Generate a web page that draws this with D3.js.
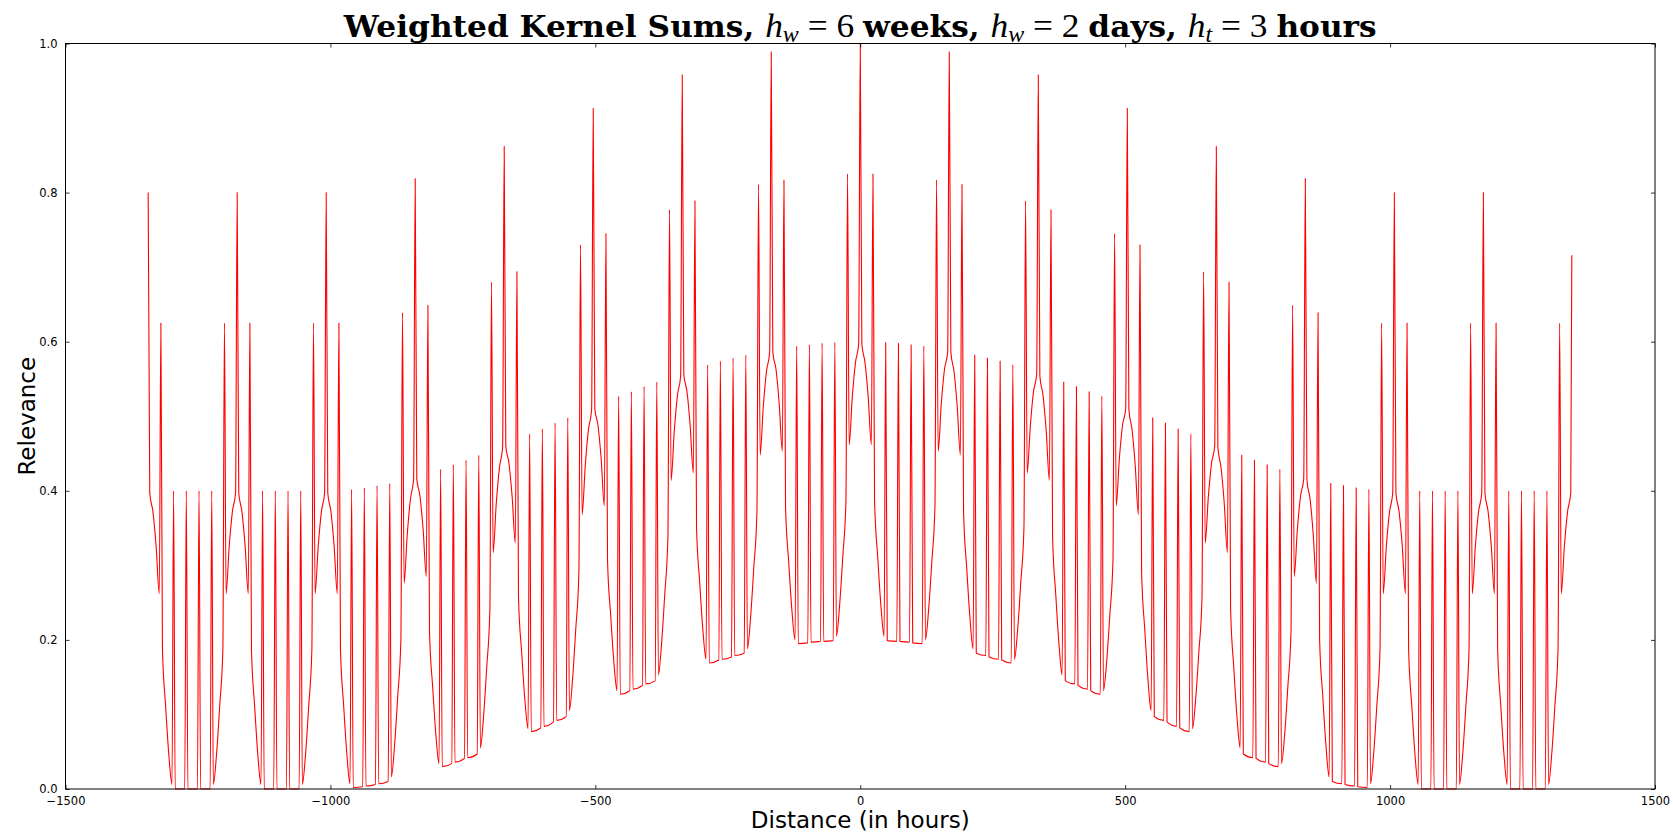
<!DOCTYPE html>
<html>
<head>
<meta charset="utf-8">
<script src="https://cdn.jsdelivr.net/npm/d3@7"></script>
<style>
  html, body { margin: 0; padding: 0; background: #ffffff; }
  svg { display: block; }
</style>
</head>
<body>
<svg id="chart" width="1673" height="836"></svg>
<script>
// ---- Data (hours from reference, relevance) ----
// Sample offsets (hours) inside each week that the reading was taken at
const hourOffsets = [0, 3, 9, 15, 21, 24, 27, 33, 39, 45, 48, 51, 69, 72, 75, 93, 96, 99, 117, 120, 123, 129, 135, 141, 144, 147, 153, 159, 165];
// Start hour of each week block
const weekStarts = [-1344, -1176, -1008, -840, -672, -504, -336, -168, 0, 168, 336, 504, 672, 840, 1008, 1176];

const relWeekM8 = [0.800, 0.397, 0.372, 0.326, 0.262, 0.625, 0.187, 0.111, 0.046, 0.006, 0.400, 0.000, 0.000, 0.400, 0.000, 0.000, 0.400, 0.000, 0.000, 0.400, 0.006, 0.046, 0.111, 0.187, 0.625, 0.262, 0.326, 0.372, 0.397];
const relWeekM7 = [0.800, 0.397, 0.372, 0.326, 0.262, 0.625, 0.187, 0.111, 0.046, 0.006, 0.400, 0.000, 0.000, 0.400, 0.000, 0.000, 0.400, 0.000, 0.000, 0.400, 0.006, 0.046, 0.111, 0.187, 0.625, 0.262, 0.326, 0.372, 0.397];
const relWeekM6 = [0.800, 0.397, 0.372, 0.326, 0.262, 0.625, 0.187, 0.112, 0.047, 0.007, 0.402, 0.002, 0.003, 0.404, 0.004, 0.006, 0.407, 0.007, 0.010, 0.410, 0.016, 0.058, 0.124, 0.200, 0.639, 0.276, 0.341, 0.389, 0.415];
const relWeekM5 = [0.819, 0.416, 0.393, 0.348, 0.285, 0.649, 0.211, 0.137, 0.073, 0.034, 0.429, 0.030, 0.034, 0.435, 0.036, 0.041, 0.441, 0.042, 0.047, 0.448, 0.055, 0.097, 0.163, 0.241, 0.680, 0.317, 0.383, 0.431, 0.458];
const relWeekM4 = [0.862, 0.460, 0.437, 0.392, 0.330, 0.694, 0.257, 0.183, 0.120, 0.081, 0.476, 0.077, 0.082, 0.483, 0.084, 0.090, 0.491, 0.092, 0.097, 0.498, 0.105, 0.147, 0.214, 0.291, 0.730, 0.368, 0.434, 0.482, 0.509];
const relWeekM3 = [0.913, 0.510, 0.488, 0.443, 0.380, 0.745, 0.307, 0.233, 0.170, 0.132, 0.527, 0.127, 0.132, 0.533, 0.134, 0.139, 0.540, 0.141, 0.145, 0.546, 0.153, 0.195, 0.261, 0.338, 0.777, 0.414, 0.480, 0.528, 0.554];
const relWeekM2 = [0.958, 0.556, 0.533, 0.487, 0.424, 0.789, 0.351, 0.277, 0.213, 0.174, 0.569, 0.169, 0.173, 0.574, 0.174, 0.177, 0.578, 0.179, 0.182, 0.582, 0.188, 0.230, 0.296, 0.372, 0.811, 0.448, 0.513, 0.560, 0.586];
const relWeekM1 = [0.989, 0.586, 0.563, 0.517, 0.453, 0.817, 0.379, 0.304, 0.240, 0.200, 0.594, 0.195, 0.196, 0.596, 0.197, 0.198, 0.598, 0.198, 0.199, 0.599, 0.205, 0.246, 0.311, 0.387, 0.825, 0.462, 0.526, 0.572, 0.597];
const relWeek0  = [1.000, 0.597, 0.572, 0.526, 0.462, 0.825, 0.387, 0.311, 0.246, 0.205, 0.599, 0.199, 0.198, 0.598, 0.198, 0.197, 0.596, 0.196, 0.195, 0.594, 0.200, 0.240, 0.304, 0.379, 0.817, 0.453, 0.517, 0.563, 0.586];
const relWeek1  = [0.989, 0.586, 0.560, 0.513, 0.448, 0.811, 0.372, 0.296, 0.230, 0.188, 0.582, 0.182, 0.179, 0.578, 0.177, 0.174, 0.574, 0.173, 0.169, 0.569, 0.174, 0.213, 0.277, 0.351, 0.789, 0.424, 0.487, 0.533, 0.556];
const relWeek2  = [0.958, 0.554, 0.528, 0.480, 0.414, 0.777, 0.338, 0.261, 0.195, 0.153, 0.546, 0.145, 0.141, 0.540, 0.139, 0.134, 0.533, 0.132, 0.127, 0.527, 0.132, 0.170, 0.233, 0.307, 0.745, 0.380, 0.443, 0.488, 0.510];
const relWeek3  = [0.913, 0.509, 0.482, 0.434, 0.368, 0.730, 0.291, 0.214, 0.147, 0.105, 0.498, 0.097, 0.092, 0.491, 0.090, 0.084, 0.483, 0.082, 0.077, 0.476, 0.081, 0.120, 0.183, 0.257, 0.694, 0.330, 0.392, 0.437, 0.460];
const relWeek4  = [0.862, 0.458, 0.431, 0.383, 0.317, 0.680, 0.241, 0.163, 0.097, 0.055, 0.448, 0.047, 0.042, 0.441, 0.041, 0.036, 0.435, 0.034, 0.030, 0.429, 0.034, 0.073, 0.137, 0.211, 0.649, 0.285, 0.348, 0.393, 0.416];
const relWeek5  = [0.819, 0.415, 0.389, 0.341, 0.276, 0.639, 0.200, 0.124, 0.058, 0.016, 0.410, 0.010, 0.007, 0.407, 0.006, 0.004, 0.404, 0.003, 0.002, 0.402, 0.007, 0.047, 0.112, 0.187, 0.625, 0.262, 0.326, 0.372, 0.397];
const relWeek6  = [0.800, 0.397, 0.372, 0.326, 0.262, 0.625, 0.187, 0.111, 0.046, 0.006, 0.400, 0.000, 0.000, 0.400, 0.000, 0.000, 0.400, 0.000, 0.000, 0.400, 0.006, 0.046, 0.111, 0.187, 0.625, 0.262, 0.326, 0.372, 0.397];
const relWeek7  = [0.800, 0.397, 0.372, 0.326, 0.262, 0.625, 0.187, 0.111, 0.046, 0.006, 0.400, 0.000, 0.000, 0.400, 0.000, 0.000, 0.400, 0.000, 0.000, 0.400, 0.006, 0.046, 0.111, 0.187, 0.625, 0.262, 0.326, 0.372, 0.397];
// final sample at the right end
const tailHours  = [1343];
const tailValues = [0.716];

const xTicks = [-1500, -1000, -500, 0, 500, 1000, 1500];
const yTicks = [0.0, 0.2, 0.4, 0.6, 0.8, 1.0];
const xDomain = [-1500, 1500];
const yDomain = [0, 1];

const weekSeries = [relWeekM8, relWeekM7, relWeekM6, relWeekM5, relWeekM4, relWeekM3, relWeekM2, relWeekM1,
                    relWeek0, relWeek1, relWeek2, relWeek3, relWeek4, relWeek5, relWeek6, relWeek7];

// ---- Build points ----
const points = [];
weekSeries.forEach((vals, i) => {
  vals.forEach((v, j) => points.push([weekStarts[i] + hourOffsets[j], v]));
});
tailHours.forEach((h, i) => points.push([h, tailValues[i]]));

// ---- Layout ----
const svg = d3.select("#chart");
const L = 65.5, R = 1655, T = 43.5, B = 789;

const x = d3.scaleLinear().domain(xDomain).range([L, R]);
const y = d3.scaleLinear().domain(yDomain).range([B, T]);

svg.append("defs").append("clipPath").attr("id", "clip")
  .append("rect").attr("x", L).attr("y", T - 1).attr("width", R - L).attr("height", B - T + 2);

// line
const line = d3.line().x(d => x(d[0])).y(d => y(d[1])).curve(d3.curveMonotoneX);
svg.append("path")
  .datum(points)
  .attr("clip-path", "url(#clip)")
  .attr("fill", "none")
  .attr("stroke", "#ff0000")
  .attr("stroke-width", 1.1)
  .attr("stroke-linejoin", "round")
  .attr("d", line);

// axes (ticks inward, on all four sides)
const tickFont = "DejaVu Sans, Bitstream Vera Sans, sans-serif";
const axBottom = d3.axisBottom(x).tickValues(xTicks).tickSize(-4).tickPadding(8)
  .tickFormat(d => d3.format("d")(d).replace("-", "\u2212"));
const axTop = d3.axisTop(x).tickValues(xTicks).tickSize(-4).tickFormat("");
const axLeft = d3.axisLeft(y).tickValues(yTicks).tickSize(-4).tickPadding(8).tickFormat(d3.format(".1f"));
const axRight = d3.axisRight(y).tickValues(yTicks).tickSize(-4).tickFormat("");

function styleAxis(g) {
  g.select(".domain").remove();
  g.selectAll(".tick line").attr("stroke", "#000").attr("stroke-width", 0.8);
  g.selectAll(".tick text").attr("fill", "#000").style("font-family", tickFont).style("font-size", "11.5px");
}
svg.append("g").attr("transform", `translate(0,${B})`).call(axBottom).call(styleAxis);
svg.append("g").attr("transform", `translate(0,${T})`).call(axTop).call(styleAxis);
svg.append("g").attr("transform", `translate(${L},0)`).call(axLeft).call(styleAxis);
svg.append("g").attr("transform", `translate(${R},0)`).call(axRight).call(styleAxis);

// frame
svg.append("rect").attr("x", L).attr("y", T).attr("width", R - L).attr("height", B - T)
  .attr("fill", "none").attr("stroke", "#000").attr("stroke-width", 1);

// axis labels
svg.append("text")
  .attr("x", (L + R) / 2).attr("y", 828)
  .attr("text-anchor", "middle")
  .style("font-family", tickFont).style("font-size", "23px")
  .text("Distance (in hours)");
svg.append("text")
  .attr("transform", `translate(35,${(T + B) / 2}) rotate(-90)`)
  .attr("text-anchor", "middle")
  .style("font-family", tickFont).style("font-size", "23px")
  .text("Relevance");

// title with math parts
const titleParts = [
  {t: "Weighted Kernel Sums, ", k: "b"},
  {t: "h", k: "i"}, {t: "w", k: "s"}, {t: " = 6 ", k: "n"}, {t: "weeks, ", k: "b"},
  {t: "h", k: "i"}, {t: "w", k: "s"}, {t: " = 2 ", k: "n"}, {t: "days, ", k: "b"},
  {t: "h", k: "i"}, {t: "t", k: "s"}, {t: " = 3 ", k: "n"}, {t: "hours", k: "b"}
];
const titleCx = (L + R) / 2;
const titleG = svg.append("g");
const title = titleG.append("text")
  .attr("x", titleCx).attr("y", 37)
  .attr("text-anchor", "middle")
  .style("font-size", "30px")
  .attr("xml:space", "preserve");
let prevSub = false;
titleParts.forEach(p => {
  const ts = title.append("tspan").text(p.t);
  if (p.k === "b") ts.style("font-family", "DejaVu Serif, serif").style("font-weight", "bold").style("font-size", "30px");
  else if (p.k === "i") ts.style("font-family", "Liberation Serif, serif").style("font-style", "italic").style("font-size", "34px");
  else if (p.k === "s") ts.style("font-family", "Liberation Serif, serif").style("font-style", "italic").style("font-size", "23px");
  else ts.style("font-family", "Liberation Serif, serif").style("font-size", "34px");
  if (p.k === "s" && !prevSub) ts.attr("dy", 5);
  if (p.k !== "s" && prevSub) ts.attr("dy", -5);
  prevSub = p.k === "s";
});
// squeeze horizontally to the width the title spans in the reference
const targetW = 1033;
const w = title.node().getComputedTextLength();
if (w > 0) {
  const f = targetW / w;
  titleG.attr("transform", `translate(${titleCx},0) scale(${f},1) translate(${-titleCx},0)`);
}
</script>
</body>
</html>
